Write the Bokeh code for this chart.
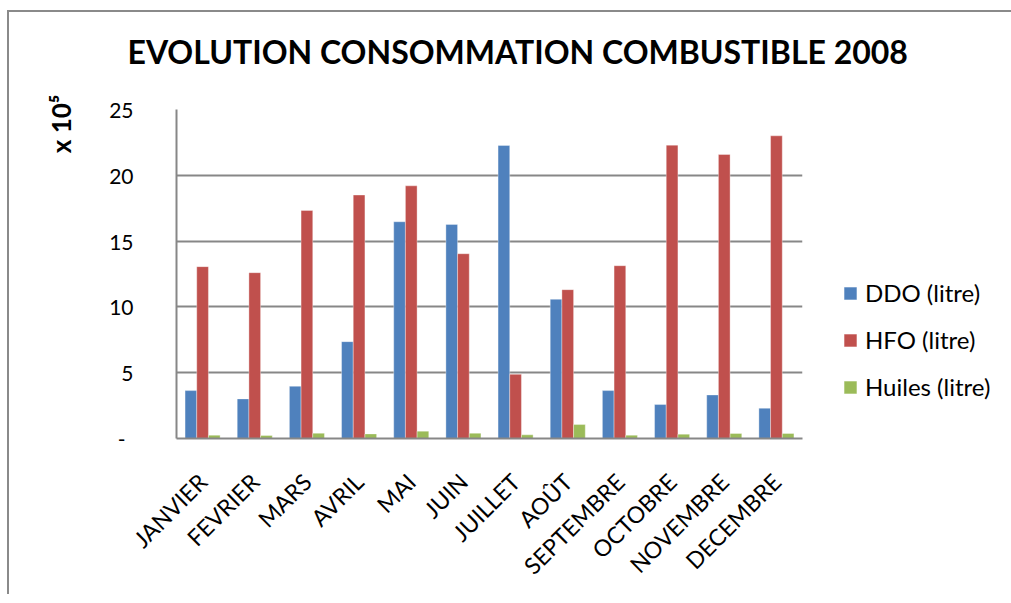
import math
from bokeh.plotting import figure
from bokeh.models import (FactorRange, Range1d, FixedTicker, Title, Legend,
                          LegendItem, ColumnDataSource)
from bokeh.transform import dodge
from bokeh.embed import file_html
from bokeh.resources import INLINE

# Monthly fuel consumption, 2008 (units of 10^5 litres)
months = ["JANVIER", "FEVRIER", "MARS", "AVRIL", "MAI", "JUIN", "JUILLET",
          "AOÛT", "SEPTEMBRE", "OCTOBRE", "NOVEMBRE", "DECEMBRE"]
ddo = [3.64, 3.01, 3.97, 7.36, 16.47, 16.27, 22.27, 10.58, 3.64, 2.58, 3.31, 2.30]
hfo = [13.06, 12.60, 17.33, 18.50, 19.20, 14.04, 4.88, 11.31, 13.13, 22.29, 21.58, 23.00]
huiles = [0.25, 0.23, 0.40, 0.35, 0.56, 0.40, 0.28, 1.06, 0.25, 0.33, 0.38, 0.38]
series_names = ["DDO (litre)", "HFO (litre)", "Huiles (litre)"]
y_ticks = [0, 5, 10, 15, 20, 25]

colors = ["#4F81BD", "#C0504D", "#9BBB59"]
FONT = "Lato"
GRID = "#878787"

src = ColumnDataSource(dict(month=months, ddo=ddo, hfo=hfo, huiles=huiles))

p = figure(x_range=FactorRange(*months, range_padding=0),
           y_range=Range1d(0, 25),
           frame_width=626, frame_height=329,
           min_border_left=167, min_border_top=97,
           min_border_right=200, min_border_bottom=156,
           output_backend="svg", toolbar_location=None)
p.styles = {"margin-left": "7px", "margin-top": "10px",
            "border-left": "2px solid #8a8a8a", "border-top": "2px solid #8a8a8a",
            "border-right": "none", "border-bottom": "none"}

p.outline_line_color = None
p.background_fill_color = "white"
p.border_fill_color = "white"

bw = 0.224
renderers = []
for key, off, col in zip(["ddo", "hfo", "huiles"], [-bw, 0.0, bw], colors):
    r = p.vbar(x=dodge("month", off, range=p.x_range), top=key, width=bw,
               source=src, fill_color=col, line_color="white", line_alpha=0.35,
               line_width=1)
    renderers.append(r)

# axes and grid
p.xgrid.grid_line_color = None
p.ygrid.grid_line_color = GRID
p.ygrid.grid_line_width = 2
p.yaxis.ticker = FixedTicker(ticks=y_ticks)
p.yaxis.major_label_overrides = {0: "-\u00a0\u2009"}
for ax in (p.xaxis[0], p.yaxis[0]):
    ax.axis_line_color = GRID
    ax.axis_line_width = 2
    ax.major_tick_line_color = None
    ax.minor_tick_line_color = None
    ax.major_label_text_font = FONT
    ax.major_label_text_color = "black"
    ax.major_label_text_font_size = "21px"
p.yaxis.major_label_standoff = 37
# blank axis label widens the axis panel so the unit label sits further out
p.yaxis.axis_label = " "
p.yaxis.axis_label_text_font_size = "2px"
p.yaxis.axis_label_standoff = 9
p.xaxis.major_label_orientation = math.pi / 4
p.xaxis.major_label_standoff = 33
p.xaxis.major_label_text_font_size = "23px"

# spacer between plot area and chart title, then the title itself
p.add_layout(Title(text=" ", text_font_size="10px", standoff=26), "above")
p.add_layout(Title(text="EVOLUTION CONSOMMATION COMBUSTIBLE 2008",
                   align="left", offset=-49, standoff=0,
                   text_font=FONT, text_font_style="bold", text_font_size="32px",
                   text_color="black"), "above")
p.add_layout(Title(text="x 10\u2075", align="right", offset=-15, standoff=29,
                   text_font=FONT, text_font_style="bold", text_font_size="26px",
                   text_color="black"), "left")

legend = Legend(items=[LegendItem(label=n, renderers=[r])
                       for n, r in zip(series_names, renderers)],
                location=(40, 37), orientation="vertical",
                glyph_width=16, glyph_height=16, label_height=16,
                label_width=10, spacing=18, label_standoff=7,
                padding=0, margin=0, border_line_color=None,
                background_fill_alpha=0,
                label_text_font=FONT, label_text_font_size="24px",
                label_text_color="black")
p.add_layout(legend, "right")

open("out.html", "w").write(file_html(p, INLINE))
